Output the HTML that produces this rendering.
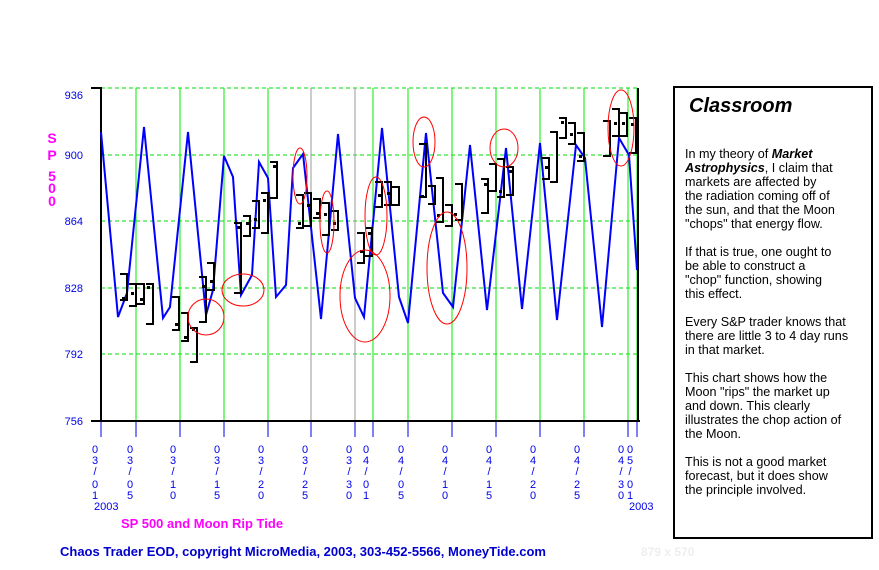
<!DOCTYPE html>
<html><head><meta charset="utf-8"><style>
body{margin:0;background:#fff;width:879px;height:570px;overflow:hidden;font-family:"Liberation Sans",Arial,sans-serif}
#box{position:absolute;left:673px;top:86px;width:196px;height:449px;border:2px solid #000}
#box h1{position:absolute;left:14px;top:7px;margin:0;font-size:20px;font-style:italic;font-weight:bold}
#box .t{position:absolute;left:10px;top:59px;width:190px;font-size:12.6px;line-height:14px;white-space:nowrap}
#box p{margin:0 0 14px 0}
</style></head><body>
<svg width="879" height="570" style="position:absolute;left:0;top:0" font-family="Liberation Sans, Arial, sans-serif">
<g stroke="#00dd00" stroke-dasharray="4,3" stroke-width="1">
<line x1="101" y1="88" x2="638" y2="88"/><line x1="101" y1="155" x2="638" y2="155"/><line x1="101" y1="221" x2="638" y2="221"/><line x1="101" y1="288" x2="638" y2="288"/><line x1="101" y1="354" x2="638" y2="354"/>
</g>
<g stroke="#00ee00" stroke-width="1">
<line x1="136" y1="88" x2="136" y2="421"/><line x1="180" y1="88" x2="180" y2="421"/><line x1="224" y1="88" x2="224" y2="421"/><line x1="268" y1="88" x2="268" y2="421"/>
<line x1="373" y1="88" x2="373" y2="421"/><line x1="408" y1="88" x2="408" y2="421"/><line x1="452" y1="88" x2="452" y2="421"/><line x1="496" y1="88" x2="496" y2="421"/><line x1="540" y1="88" x2="540" y2="421"/><line x1="584" y1="88" x2="584" y2="421"/><line x1="628" y1="88" x2="628" y2="421"/><line x1="637" y1="88" x2="637" y2="421"/>
</g>
<g stroke="#999" stroke-width="1"><line x1="311" y1="88" x2="311" y2="421"/><line x1="355" y1="88" x2="355" y2="421"/></g>
<g stroke="#000" stroke-width="2"><line x1="101" y1="87" x2="101" y2="422"/><line x1="91" y1="88" x2="101" y2="88"/><line x1="91" y1="421" x2="640" y2="421"/><line x1="638" y1="88" x2="638" y2="421"/></g>
<g stroke="#0000ee" stroke-width="1">
<line x1="101" y1="422" x2="101" y2="437"/><line x1="136" y1="422" x2="136" y2="437"/><line x1="180" y1="422" x2="180" y2="437"/><line x1="224" y1="422" x2="224" y2="437"/><line x1="268" y1="422" x2="268" y2="437"/><line x1="311" y1="422" x2="311" y2="437"/><line x1="355" y1="422" x2="355" y2="437"/><line x1="373" y1="422" x2="373" y2="437"/><line x1="408" y1="422" x2="408" y2="437"/><line x1="452" y1="422" x2="452" y2="437"/><line x1="496" y1="422" x2="496" y2="437"/><line x1="540" y1="422" x2="540" y2="437"/><line x1="584" y1="422" x2="584" y2="437"/><line x1="628" y1="422" x2="628" y2="437"/><line x1="637" y1="422" x2="637" y2="437"/>
</g>
<g fill="#0000ee" font-size="11" text-anchor="end">
<text x="83" y="99">936</text><text x="83" y="159">900</text><text x="83" y="225">864</text><text x="83" y="292">828</text><text x="83" y="358">792</text><text x="83" y="425">756</text>
</g>
<g fill="#ff00ff" font-size="14" font-weight="bold" text-anchor="middle">
<text x="52" y="143">S</text><text x="52" y="160">P</text><text x="52" y="181">5</text><text x="52" y="193">0</text><text x="52" y="206">0</text>
</g>
<g fill="#0000ee" font-size="11" text-anchor="middle">
<text x="95" y="453"><tspan x="95">0</tspan><tspan x="95" dy="11">3</tspan><tspan x="95" dy="11">/</tspan><tspan x="95" dy="13">0</tspan><tspan x="95" dy="11">1</tspan></text>
<text x="130" y="453"><tspan x="130">0</tspan><tspan x="130" dy="11">3</tspan><tspan x="130" dy="11">/</tspan><tspan x="130" dy="13">0</tspan><tspan x="130" dy="11">5</tspan></text>
<text x="173" y="453"><tspan x="173">0</tspan><tspan x="173" dy="11">3</tspan><tspan x="173" dy="11">/</tspan><tspan x="173" dy="13">1</tspan><tspan x="173" dy="11">0</tspan></text>
<text x="217" y="453"><tspan x="217">0</tspan><tspan x="217" dy="11">3</tspan><tspan x="217" dy="11">/</tspan><tspan x="217" dy="13">1</tspan><tspan x="217" dy="11">5</tspan></text>
<text x="261" y="453"><tspan x="261">0</tspan><tspan x="261" dy="11">3</tspan><tspan x="261" dy="11">/</tspan><tspan x="261" dy="13">2</tspan><tspan x="261" dy="11">0</tspan></text>
<text x="305" y="453"><tspan x="305">0</tspan><tspan x="305" dy="11">3</tspan><tspan x="305" dy="11">/</tspan><tspan x="305" dy="13">2</tspan><tspan x="305" dy="11">5</tspan></text>
<text x="349" y="453"><tspan x="349">0</tspan><tspan x="349" dy="11">3</tspan><tspan x="349" dy="11">/</tspan><tspan x="349" dy="13">3</tspan><tspan x="349" dy="11">0</tspan></text>
<text x="366" y="453"><tspan x="366">0</tspan><tspan x="366" dy="11">4</tspan><tspan x="366" dy="11">/</tspan><tspan x="366" dy="13">0</tspan><tspan x="366" dy="11">1</tspan></text>
<text x="401" y="453"><tspan x="401">0</tspan><tspan x="401" dy="11">4</tspan><tspan x="401" dy="11">/</tspan><tspan x="401" dy="13">0</tspan><tspan x="401" dy="11">5</tspan></text>
<text x="445" y="453"><tspan x="445">0</tspan><tspan x="445" dy="11">4</tspan><tspan x="445" dy="11">/</tspan><tspan x="445" dy="13">1</tspan><tspan x="445" dy="11">0</tspan></text>
<text x="489" y="453"><tspan x="489">0</tspan><tspan x="489" dy="11">4</tspan><tspan x="489" dy="11">/</tspan><tspan x="489" dy="13">1</tspan><tspan x="489" dy="11">5</tspan></text>
<text x="533" y="453"><tspan x="533">0</tspan><tspan x="533" dy="11">4</tspan><tspan x="533" dy="11">/</tspan><tspan x="533" dy="13">2</tspan><tspan x="533" dy="11">0</tspan></text>
<text x="577" y="453"><tspan x="577">0</tspan><tspan x="577" dy="11">4</tspan><tspan x="577" dy="11">/</tspan><tspan x="577" dy="13">2</tspan><tspan x="577" dy="11">5</tspan></text>
<text x="621" y="453"><tspan x="621">0</tspan><tspan x="621" dy="11">4</tspan><tspan x="621" dy="11">/</tspan><tspan x="621" dy="13">3</tspan><tspan x="621" dy="11">0</tspan></text>
<text x="630" y="453"><tspan x="630">0</tspan><tspan x="630" dy="11">5</tspan><tspan x="630" dy="11">/</tspan><tspan x="630" dy="13">0</tspan><tspan x="630" dy="11">1</tspan></text>
</g>
<g fill="#0000ee" font-size="11"><text x="94" y="510">2003</text><text x="629" y="510">2003</text></g>
<text x="121" y="528" fill="#ff00ff" font-size="13" font-weight="bold">SP 500 and Moon Rip Tide</text>
<text x="60" y="556" fill="#0000cc" font-size="13" font-weight="bold">Chaos Trader EOD, copyright MicroMedia, 2003, 303-452-5566, MoneyTide.com</text>
<text x="641" y="556" fill="#eeeeee" font-size="12" font-weight="bold">879 x 570</text>
<polyline fill="none" stroke="#0000ff" stroke-width="2" points="101,132 118,317 127,293 144,127 163,318 170,307 188,132 206,315 213,290 224,156 233,177 241,295 252,275 259,162 268,178 276,297 286,285 293,168 303,154 321,319 338,134 355,298 364,317 382,128 399,297 408,323 426,133 443,293 453,307 470,145 487,310 506,148 522,309 540,143 557,320 576,145 585,158 602,327 619,138 629,155 637,270"/>
<g fill="none" stroke="#000" stroke-width="2">
<path d="M120,274h7v26h-7M129,284h7v22h-7M137,284h7v20h-7M146,284h7v40h-7M172,297h7v33h-7M181,313h7v28h-7M190,328h7v34h-7M199,277h7v45h-7M207,263h7v27h-7M234,223h7v70h-7M243,216h7v20h-7M252,201h7v27h-7M261,193h7v40h-7M270,162h7v36h-7M296,195h7v33h-7M304,193h7v33h-7M313,199h7v19h-7M322,203h7v32h-7M331,211h7v19h-7M357,233h7v30h-7M365,228h7v28h-7M375,182h7v25h-7M384,182h7v23h-7M392,187h7v18h-7M419,144h7v53h-7M428,186h7v18h-7M436,178h7v44h-7M445,205h7v21h-7M455,184h7v36h-7M481,179h7v34h-7M489,164h7v27h-7M497,159h7v38h-7M506,167h7v28h-7M542,158h7v21h-7M550,132h7v50h-7M559,118h7v20h-7M568,123h7v21h-7M577,133h7v28h-7M603,121h7v35h-7M612,109h7v27h-7M620,113h7v23h-7M629,118h7v35h-7"/>
</g>
<g fill="#000">
<rect x="122" y="297" width="3" height="3"/><rect x="131" y="292" width="3" height="3"/><rect x="140" y="298" width="3" height="3"/><rect x="147" y="286" width="3" height="3"/><rect x="175" y="323" width="3" height="3"/><rect x="184" y="336" width="3" height="3"/><rect x="192" y="328" width="3" height="3"/><rect x="202" y="285" width="3" height="3"/><rect x="210" y="280" width="3" height="3"/><rect x="237" y="226" width="3" height="3"/><rect x="246" y="222" width="3" height="3"/><rect x="254" y="218" width="3" height="3"/><rect x="263" y="199" width="3" height="3"/><rect x="273" y="165" width="3" height="3"/><rect x="298" y="222" width="3" height="3"/><rect x="307" y="204" width="3" height="3"/><rect x="316" y="212" width="3" height="3"/><rect x="324" y="213" width="3" height="3"/><rect x="333" y="222" width="3" height="3"/><rect x="360" y="250" width="3" height="3"/><rect x="368" y="232" width="3" height="3"/><rect x="378" y="194" width="3" height="3"/><rect x="387" y="192" width="3" height="3"/><rect x="421" y="195" width="3" height="3"/><rect x="437" y="214" width="3" height="3"/><rect x="454" y="213" width="3" height="3"/><rect x="484" y="183" width="3" height="3"/><rect x="499" y="190" width="3" height="3"/><rect x="509" y="170" width="3" height="3"/><rect x="545" y="166" width="3" height="3"/><rect x="561" y="121" width="3" height="3"/><rect x="570" y="133" width="3" height="3"/><rect x="579" y="155" width="3" height="3"/><rect x="614" y="122" width="3" height="3"/><rect x="622" y="122" width="3" height="3"/><rect x="631" y="123" width="3" height="3"/>
</g>
<g fill="none" stroke="#ff0000" stroke-width="1">
<ellipse cx="206" cy="317" rx="18" ry="18"/><ellipse cx="243" cy="290" rx="21" ry="16"/><ellipse cx="300" cy="176" rx="7" ry="28"/><ellipse cx="327" cy="222" rx="7" ry="31"/><ellipse cx="365" cy="296" rx="25" ry="46"/><ellipse cx="376" cy="216" rx="11" ry="39"/><ellipse cx="424" cy="142" rx="11" ry="25"/><ellipse cx="447" cy="268" rx="20" ry="56"/><ellipse cx="504" cy="148" rx="14" ry="19"/><ellipse cx="621" cy="128" rx="13" ry="38"/>
</g>
</svg>
<div id="box"><h1>Classroom</h1><div class="t">
<p>In my theory of <b><i>Market</i></b><br><b><i>Astrophysics</i></b>, I claim that<br>markets are affected by<br>the radiation coming off of<br>the sun, and that the Moon<br>"chops" that energy flow.</p>
<p>If that is true, one ought to<br>be able to construct a<br>"chop" function, showing<br>this effect.</p>
<p>Every S&amp;P trader knows that<br>there are little 3 to 4 day runs<br>in that market.</p>
<p>This chart shows how the<br>Moon "rips" the market up<br>and down. This clearly<br>illustrates the chop action of<br>the Moon.</p>
<p>This is not a good market<br>forecast, but it does show<br>the principle involved.</p>
</div></div>
</body></html>
